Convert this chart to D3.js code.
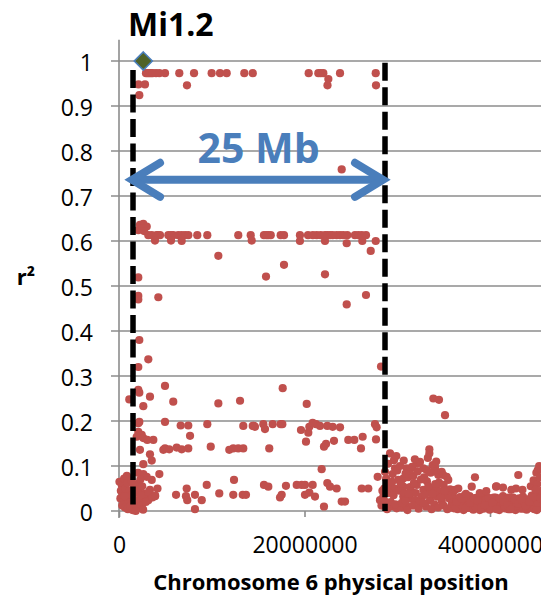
<!DOCTYPE html>
<html><head><meta charset="utf-8">
<script src="https://cdn.jsdelivr.net/npm/d3@7"></script>
<style>body{margin:0;background:#fff}svg{display:block}</style>
</head><body>
<svg id="chart" width="541" height="597"></svg>
<script>
// ---- data ----
const chartTitle = "Mi1.2";
const xTitle = "Chromosome 6 physical position";
const yTitle = "r²";
const yTicks = [0, 0.1, 0.2, 0.3, 0.4, 0.5, 0.6, 0.7, 0.8, 0.9, 1];
const xTicks = [0, 20000000, 40000000];
const focalSnp = [2.62, 1.0];              // [position Mb, r²]
const boundaryMb = [1.51, 28.68];          // dashed region borders (Mb)
const boundaryTop = [0.98, 0.996];         // r² top of each dashed line
const arrowMb = [1.19, 28.68];             // span arrow (Mb)
const arrowR2 = 0.736;
const arrowLabel = "25 Mb";
// SNPs: [position (Mb), r²]
const snps = [
 [2.91,0.973],[3.1,0.973],[3.27,0.973],[3.45,0.973],[3.63,0.973],[3.99,0.973],[4.35,0.973],[4.96,0.973],[6.50,0.973],[8.09,0.973],[9.99,0.973],[10.89,0.973],[11.61,0.973],[13.51,0.973],[14.42,0.973],[20.45,0.973],[21.49,0.973],[21.75,0.973],[22.03,0.973],[23.83,0.973],[27.68,0.973],
 [2.10,0.948],[2.80,0.948],[7.33,0.946],[22.48,0.946],[27.71,0.946],[22.57,0.96],[2.19,0.924],[24.01,0.759],
 [2.26,0.636],[2.62,0.638],[2.99,0.632],[2.08,0.624],[2.45,0.628],[2.7,0.622],
 [3.16,0.613],[3.53,0.613],[4.06,0.613],[4.42,0.613],[5.32,0.613],[5.85,0.613],[6.39,0.613],[6.76,0.613],[7.12,0.613],[7.47,0.613],[8.44,0.613],[9.52,0.613],[12.86,0.613],[14.2,0.613],[15.63,0.613],[16.1,0.613],[16.36,0.613],[17.43,0.613],[17.79,0.613],[19.51,0.613],[20.38,0.613],[21.32,0.613],[21.75,0.613],[22.21,0.613],[22.46,0.613],[22.75,0.613],[23.04,0.613],[23.47,0.613],[23.83,0.613],[24.18,0.613],[24.61,0.613],[25.44,0.613],[25.80,0.613],[26.17,0.613],[26.63,0.613],[4.2,0.613],[5.6,0.613],[15.9,0.613],[20.9,0.613],
 [3.88,0.601],[5.61,0.601],[6.76,0.6],[14.31,0.601],[19.51,0.6],[22.21,0.6],[26.23,0.6],[27.68,0.6],[24.55,0.595],[27.14,0.578],
 [10.71,0.567],[17.79,0.547],[15.85,0.521],[22.21,0.526],[2.08,0.519],[4.24,0.475],[2.08,0.478],[2.08,0.47],[24.55,0.459],[26.63,0.48],
 [2.19,0.38],[3.16,0.337],[2.08,0.32],[28.25,0.321],
 [4.96,0.278],[2.08,0.269],[2.19,0.263],[3.34,0.254],[1.11,0.248],[2.62,0.233],[5.85,0.243],[10.71,0.239],[13.05,0.245],[17.65,0.273],[20.24,0.238],[33.89,0.25],[34.5,0.247],[35.15,0.213],
 [4.96,0.198],[2.19,0.198],[2.08,0.195],[6.65,0.19],[7.47,0.19],[9.52,0.193],[7.66,0.167],[13.40,0.189],[14.42,0.189],[14.66,0.187],
 [2.08,0.176],[2.45,0.169],[1.91,0.165],[2.62,0.162],[3.05,0.158],[3.70,0.158],
 [4.78,0.136],[4.96,0.139],[5.42,0.137],[6.22,0.141],[6.76,0.137],[7.47,0.139],[9.89,0.143],[11.89,0.136],[12.32,0.139],[12.86,0.139],[13.40,0.139],
 [2.26,0.136],[3.34,0.126],[3.53,0.112],[2.62,0.104],[4.35,0.082],[2.62,0.082],[2.99,0.076],[3.53,0.069],[9.46,0.058],[12.40,0.069],
 [14.55,0.189],[15.56,0.193],[15.74,0.182],[16.57,0.193],[17.43,0.193],[17.61,0.193],[16.20,0.139],
 [19.62,0.18],[20.41,0.174],[20.52,0.187],[20.88,0.196],[21.24,0.193],[21.67,0.189],[22.46,0.189],[23.04,0.187],[23.83,0.186],[20.16,0.154],[22.10,0.143],[22.32,0.149],[23.18,0.156],[24.72,0.158],[25.37,0.158],[26.27,0.165],[26.09,0.139],[27.60,0.193],[27.78,0.186],[27.71,0.159],[21.85,0.093],
 [15.63,0.058],[16.10,0.054],[18.0,0.056],[19.16,0.058],[19.70,0.058],[20.05,0.058],[20.88,0.058],[22.46,0.062],[22.75,0.054],[23.47,0.05],[26.17,0.05],[26.88,0.05],[17.54,0.036],[17.36,0.03],[20.05,0.036],[20.52,0.041],[21.13,0.032],[24.01,0.021],[24.37,0.021],[22.10,0.01],[27.89,0.076],
 [7.3,0.05],[6.15,0.036],[7.22,0.033],[8.19,0.036],[8.92,0.024],[10.81,0.039],[12.32,0.036],[13.34,0.036],[13.69,0.036],[7.36,0.024],[8.19,0.004],[3.34,0.047],[3.88,0.033],[2.91,0.032],[2.45,0.028],[3.16,0.024],
 [0.05,0.065],[0.3,0.058],[0.55,0.072],[0.2,0.045],[0.4,0.038],[0.7,0.05],[0.9,0.062],[1.1,0.045],[0.15,0.028],[0.5,0.022],[0.8,0.03],[1.0,0.018],[1.3,0.035],[1.55,0.052],[1.75,0.04],[1.9,0.06],[2.1,0.048],[2.3,0.07],[2.5,0.055],[2.7,0.038],[0.35,0.012],[0.65,0.008],[0.95,0.004],[1.2,0.01],[1.45,0.002],[1.7,0.015],[2.0,0.006],[2.2,0.025],[2.45,0.012],[2.6,0.003],[0.85,0.078],[1.35,0.068],[1.6,0.025],[2.35,0.035],[0.6,0.033],[1.8,0.0],[2.9,0.02],[3.2,0.042],[3.6,0.03],[3.9,0.034],[4.15,0.05],[2.05,0.085],
 [29.22,0.128],[29.65,0.113],[29.76,0.095],[28.68,0.087],[28.93,0.062],[29.22,0.05],[29.76,0.05],[28.5,0.032],[28.14,0.024],[28.68,0.021],[29.4,0.01],[29.94,0.006],[30.48,0.008],[31.02,0.011],[30.11,0.069],[30.65,0.072],[31.19,0.075],[31.73,0.078],[31.02,0.095],[31.37,0.091],[32.1,0.105],[32.45,0.109],[32.81,0.095],[33.17,0.091],[33.46,0.137],[33.46,0.128],[33.82,0.102],[34.07,0.098],[34.25,0.087],[34.43,0.08],[34.79,0.087],[34.96,0.08],[35.33,0.076],[35.5,0.069],[30.65,0.054],[31.37,0.053],[32.1,0.058],[32.81,0.047],[33.53,0.048],[34.25,0.05],[34.61,0.043],[30.65,0.032],[31.37,0.028],[31.91,0.024],[32.64,0.032],[33.53,0.024],[34.25,0.032],
 [29.0,0.105],[29.5,0.082],[30.0,0.09],[30.3,0.1],[30.9,0.083],[31.6,0.098],[32.2,0.088],[32.9,0.075],[33.2,0.066],[33.9,0.088],[34.5,0.063],[35.0,0.058],[35.7,0.048],[36.0,0.04],
 [29.1,0.04],[29.6,0.035],[30.2,0.045],[30.8,0.04],[31.5,0.044],[32.0,0.04],[32.4,0.02],[33.0,0.036],[33.8,0.038],[34.0,0.015],[34.8,0.022],[35.2,0.035],[35.6,0.028],[35.9,0.018],
 [29.3,0.02],[29.8,0.015],[30.5,0.018],[31.1,0.002],[31.7,0.012],[32.3,0.005],[33.1,0.01],[33.7,0.004],[34.4,0.008],[35.0,0.012],[35.4,0.004],[36.1,0.006],
 [28.3,0.012],[28.9,0.004],[28.6,0.05],[28.8,0.072],[29.9,0.122],[30.7,0.112],[31.9,0.115],[33.3,0.118],[34.2,0.11],
 [29.45,0.065],[30.4,0.06],[31.25,0.038],[31.8,0.062],[32.55,0.07],[33.35,0.055],[34.1,0.06],[34.7,0.03],[35.1,0.045],[35.8,0.01],[30.9,0.022],[32.8,0.018],[33.6,0.085],[28.4,0.045],
 [36.2,0.012],[36.35,0.026],[36.5,0.004],[36.6,0.018],[36.75,0.031],[36.9,0.009],[37.0,0.022],[37.15,0.002],[37.3,0.015],[37.4,0.028],[37.55,0.007],[37.7,0.02],[37.8,0.033],[37.95,0.011],[38.1,0.024],[38.2,0.003],[38.35,0.016],[38.5,0.029],[38.6,0.008],[38.75,0.019],[38.9,0.002],[39.0,0.027],[39.15,0.013],[39.3,0.005],[39.4,0.021],[39.55,0.032],[39.7,0.01],[39.8,0.017],[39.95,0.003],[40.1,0.025],[40.2,0.012],[40.35,0.006],[40.5,0.02],[40.6,0.03],[40.75,0.009],[40.9,0.015],[41.0,0.002],[41.15,0.023],[41.3,0.011],[41.4,0.033],[41.55,0.006],[41.7,0.018],[41.8,0.027],[41.95,0.004],[42.1,0.014],[42.2,0.024],[42.35,0.008],[42.5,0.03],[42.6,0.016],[42.75,0.002],[42.9,0.021],[43.0,0.01],[43.15,0.028],[43.3,0.005],[43.4,0.017],[43.55,0.032],[43.7,0.012],[43.8,0.022],[43.95,0.003],[44.1,0.026],[44.2,0.009],[44.35,0.015],[44.5,0.034],[44.6,0.006],[44.75,0.02],[44.9,0.029],[45.0,0.012],[45.15,0.038],[45.3,0.022],[45.4,0.008],[45.55,0.045],
 [36.3,0.008],[36.85,0.014],[37.25,0.034],[37.6,0.012],[38.0,0.006],[38.45,0.01],[38.8,0.03],[39.2,0.022],[39.65,0.026],[40.0,0.008],[40.4,0.03],[40.8,0.024],[41.2,0.016],[41.6,0.01],[42.0,0.03],[42.4,0.019],[42.8,0.011],[43.2,0.02],[43.6,0.005],[44.0,0.016],[44.4,0.027],[44.8,0.004],[45.2,0.015],
 [36.4,0.02],[36.95,0.027],[37.35,0.006],[37.85,0.018],[38.25,0.028],[38.65,0.022],[39.05,0.008],[39.45,0.013],[39.85,0.029],[40.25,0.018],[40.7,0.004],[41.05,0.028],[41.45,0.02],[41.85,0.013],[42.25,0.004],[42.65,0.026],[43.05,0.016],[43.45,0.024],[43.85,0.011],[44.25,0.02],[44.65,0.031],[45.05,0.002],[45.45,0.028],
 [36.23,0.047],[36.58,0.05],[38.03,0.054],[38.38,0.075],[40.65,0.054],[43.05,0.08],[40.7,0.055],[41.4,0.052],[42.3,0.047],[42.8,0.05],[43.5,0.047],[37.4,0.038],[38.9,0.04],[39.6,0.044],[44.4,0.055],[44.7,0.068],[45.0,0.085],[45.15,0.091],[45.3,0.1],[45.45,0.093],[45.1,0.06],[44.9,0.047],[45.4,0.075]
];

// ---- drawing ----
const svg = d3.select("#chart");
const FONT = "'Open Sans', 'DejaVu Sans', sans-serif";
const MB = 1e6;
const x = d3.scaleLinear().domain([0, 50000000]).range([119, 582.75]);
const y = d3.scaleLinear().domain([0, 1]).range([511, 61]);

// gridlines
svg.append("g").selectAll("line").data(yTicks).join("line")
  .attr("x1", 111).attr("x2", 541)
  .attr("y1", d => y(d)).attr("y2", d => y(d))
  .attr("stroke", "#8c8c8c").attr("stroke-width", 1.6);

// y axis line
svg.append("line").attr("x1", x(0)).attr("x2", x(0))
  .attr("y1", y(1.047)).attr("y2", 518)
  .attr("stroke", "#8c8c8c").attr("stroke-width", 1.6);

// y axis labels
const yAxis = svg.append("g").attr("transform", `translate(${x(0)},0)`)
  .call(d3.axisLeft(y).tickValues(yTicks).tickSize(0).tickPadding(26).tickFormat(d3.format("~g")));
yAxis.select(".domain").remove();
yAxis.selectAll("text").attr("font-family", FONT).attr("font-size", 23).attr("fill", "#000").attr("dy", "0.4em");

// x axis
const xAxis = svg.append("g").attr("transform", `translate(0,${y(0)})`)
  .call(d3.axisBottom(x).tickValues(xTicks).tickSize(6).tickPadding(20).tickFormat(d3.format("d")));
xAxis.select(".domain").remove();
xAxis.selectAll("line").attr("stroke", "#8c8c8c").attr("stroke-width", 1.6);
xAxis.selectAll("text").attr("font-family", FONT).attr("font-size", 23).attr("fill", "#000");

// points
svg.append("g").selectAll("circle").data(snps).join("circle")
  .attr("cx", d => x(d[0] * MB)).attr("cy", d => y(d[1]))
  .attr("r", 4.1).attr("fill", "#C0504D");

// focal SNP diamond
const dx = x(focalSnp[0] * MB), dy = y(focalSnp[1]);
svg.append("path")
  .attr("d", `M${dx},${dy - 9}L${dx + 9},${dy}L${dx},${dy + 9}L${dx - 9},${dy}Z`)
  .attr("fill", "#4F6228").attr("stroke", "#4A7EBB").attr("stroke-width", 1.6);

// dashed boundaries
svg.append("g").selectAll("line").data(boundaryMb).join("line")
  .attr("x1", d => x(d * MB)).attr("x2", d => x(d * MB))
  .attr("y1", (d, i) => y(boundaryTop[i])).attr("y2", y(0))
  .attr("stroke", "#000").attr("stroke-width", 5.5).attr("stroke-dasharray", "18 6.5");

// arrow
const ax1 = x(arrowMb[0] * MB), ax2 = x(arrowMb[1] * MB), ay = y(arrowR2);
const blue = "#4A7EBB";
svg.append("line").attr("x1", ax1 + 4).attr("x2", ax2 - 4).attr("y1", ay).attr("y2", ay)
  .attr("stroke", blue).attr("stroke-width", 8);
svg.append("path").attr("d", `M${ax1 + 30},${ay - 17}L${ax1 + 2},${ay}L${ax1 + 30},${ay + 17}`)
  .attr("fill", "none").attr("stroke", blue).attr("stroke-width", 8)
  .attr("stroke-linecap", "round").attr("stroke-linejoin", "miter");
svg.append("path").attr("d", `M${ax2 - 30},${ay - 17}L${ax2 - 2},${ay}L${ax2 - 30},${ay + 17}`)
  .attr("fill", "none").attr("stroke", blue).attr("stroke-width", 8)
  .attr("stroke-linecap", "round").attr("stroke-linejoin", "miter");
svg.append("text").attr("x", (ax1 + ax2) / 2 + 1).attr("y", 163)
  .attr("text-anchor", "middle").attr("font-family", FONT).attr("font-weight", "bold")
  .attr("font-size", 41).attr("fill", blue).text(arrowLabel);

// titles
svg.append("text").attr("x", 128).attr("y", 36)
  .attr("font-family", FONT).attr("font-weight", "bold").attr("font-size", 32).attr("fill", "#000")
  .text(chartTitle);
svg.append("text").attr("x", 26).attr("y", 285).attr("text-anchor", "middle")
  .attr("font-family", FONT).attr("font-weight", "bold").attr("font-size", 22).attr("fill", "#000")
  .text(yTitle);
svg.append("text").attr("x", 331).attr("y", 590).attr("text-anchor", "middle")
  .attr("font-family", FONT).attr("font-weight", "bold").attr("font-size", 22).attr("fill", "#000")
  .text(xTitle);
</script>
</body></html>
